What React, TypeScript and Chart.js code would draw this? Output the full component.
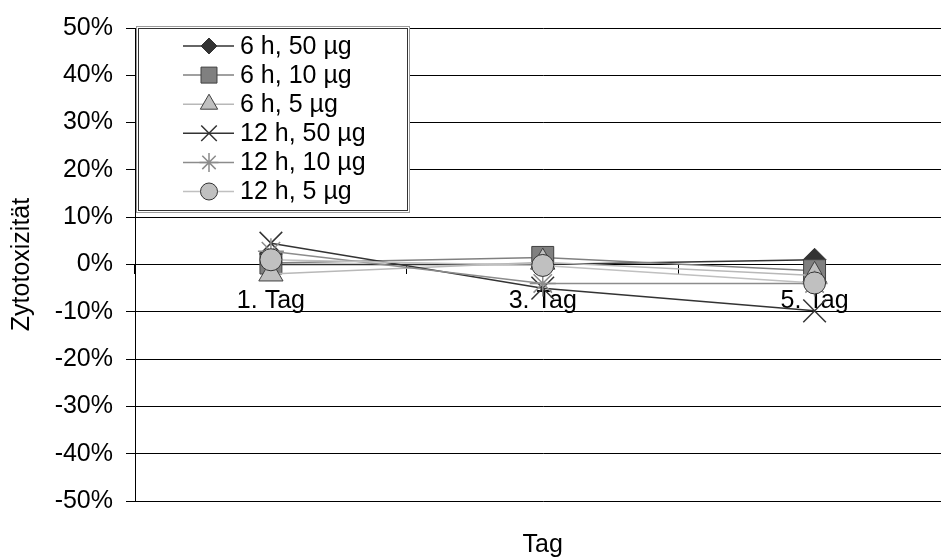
import React, { useEffect, useRef } from 'react';
import { Chart, registerables } from 'chart.js';
import { drawPoint } from 'chart.js/helpers';

Chart.register(...registerables);

// ---- data ----
const categories = ['1. Tag', '3. Tag', '5. Tag'];
const seriesLabels = ['6 h, 50 µg', '6 h, 10 µg', '6 h, 5 µg', '12 h, 50 µg', '12 h, 10 µg', '12 h, 5 µg'];
const h6_50 = [0, 0, 1];
const h6_10 = [0.3, 1.5, -1.3];
const h6_5 = [-2, 0.5, -2.3];
const h12_50 = [4.5, -5, -9.8];
const h12_10 = [2.8, -4, -4];
const h12_5 = [1, -0.2, -3.9];
const yMin = -50;
const yMax = 50;
const yStep = 10;
const yAxisTitle = 'Zytotoxizität';
const xAxisTitle = 'Tag';

const seriesValues = [h6_50, h6_10, h6_5, h12_50, h12_10, h12_5];

// ---- styles ----
const FONT = "'Liberation Sans', Arial, sans-serif";
const FS = 25;
const styles = [
  { pointStyle: 'rectRot', line: '#333333', fill: '#333333', stroke: '#333333', bw: 1, r: 11.5, lr: 8 },
  { pointStyle: 'rect', line: '#808080', fill: '#808080', stroke: '#404040', bw: 1, r: 15.5, lr: 11.3 },
  { pointStyle: 'triangle', line: '#b8b8b8', fill: '#c0c0c0', stroke: '#404040', bw: 1, r: 14, lr: 10 },
  { pointStyle: 'crossRot', line: '#333333', fill: '#333333', stroke: '#333333', bw: 1.5, r: 16, lr: 11 },
  { pointStyle: 'star', line: '#8c8c8c', fill: '#8c8c8c', stroke: '#8c8c8c', bw: 1.5, r: 13, lr: 9.5 },
  { pointStyle: 'circle', line: '#c0c0c0', fill: '#c0c0c0', stroke: '#333333', bw: 1, r: 11, lr: 8.5 },
];

const insideLegend = {
  id: 'insideLegend',
  afterDraw(chart: any) {
    const ctx = chart.ctx;
    const x0 = 136.5, y0 = 26.5, w = 273, h = 186;
    ctx.save();
    ctx.fillStyle = '#ffffff';
    ctx.fillRect(x0, y0, w, h);
    ctx.lineWidth = 1;
    ctx.strokeStyle = '#9a9a9a';
    ctx.strokeRect(x0, y0, w, h);
    ctx.strokeStyle = '#333333';
    ctx.strokeRect(x0 + 2, y0 + 2, w - 4, h - 4);
    const rowStart = 46;
    const rowGap = 29.1;
    chart.data.datasets.forEach((ds: any, i: number) => {
      const st = styles[i];
      const cy = rowStart + i * rowGap;
      ctx.strokeStyle = st.line;
      ctx.lineWidth = 1.5;
      ctx.beginPath();
      ctx.moveTo(183, cy);
      ctx.lineTo(234, cy);
      ctx.stroke();
      ctx.fillStyle = st.fill;
      ctx.strokeStyle = st.stroke;
      ctx.lineWidth = st.bw;
      drawPoint(ctx, { pointStyle: st.pointStyle, radius: st.lr, rotation: 0, borderWidth: st.bw } as any, 209, cy);
      ctx.fillStyle = '#000000';
      ctx.font = `${FS}px ${FONT}`;
      ctx.textAlign = 'left';
      ctx.textBaseline = 'middle';
      ctx.fillText(ds.label, 240, cy + 1);
    });
    ctx.restore();
  },
};

export default function App() {
  const ref = useRef<HTMLCanvasElement | null>(null);
  useEffect(() => {
    if (!ref.current) return;
    Chart.defaults.font.family = FONT;
    const chart = new Chart(ref.current, {
      type: 'line',
      data: {
        labels: categories,
        datasets: seriesValues.map((vals, i) => ({
          label: seriesLabels[i],
          data: vals,
          borderColor: styles[i].line,
          borderWidth: 1.5,
          pointStyle: styles[i].pointStyle as any,
          pointRadius: styles[i].r,
          pointHoverRadius: styles[i].r,
          pointBackgroundColor: styles[i].fill,
          pointBorderColor: styles[i].stroke,
          pointBorderWidth: styles[i].bw,
          order: seriesValues.length - 1 - i,
          tension: 0,
          clip: false as any,
        })),
      },
      options: {
        animation: false,
        responsive: false,
        devicePixelRatio: 1,
        layout: { padding: { top: 24, right: 0, left: 0, bottom: 0 } },
        plugins: {
          legend: { display: false },
          tooltip: { enabled: false },
          title: {
            display: true,
            text: xAxisTitle,
            position: 'bottom',
            fullSize: false,
            color: '#000',
            font: { size: FS, weight: 'normal' as any, family: FONT },
            padding: { top: 29, bottom: 0 },
          },
        },
        scales: {
          x: {
            type: 'category',
            position: { y: 0 } as any,
            offset: true,
            grid: { offset: true, drawOnChartArea: false, drawTicks: true, tickLength: 9, color: '#000', tickColor: '#000' },
            border: { display: true, color: '#000', width: 1 },
            ticks: { color: '#000', font: { size: FS, family: FONT }, padding: 13, maxRotation: 0, autoSkip: false },
          },
          y: {
            min: yMin,
            max: yMax,
            ticks: { stepSize: yStep, color: '#000', font: { size: FS, family: FONT }, padding: 13, callback: (v: any) => `${v}%` },
            grid: { color: '#000', tickColor: '#000', tickLength: 9, lineWidth: 1 },
            border: { display: true, color: '#000', width: 1 },
            title: { display: true, text: yAxisTitle, color: '#000', font: { size: FS, family: FONT }, padding: { top: 7, bottom: 0 } },
            afterFit: (s: any) => { s.width = 135; },
          },
        },
      },
      plugins: [insideLegend],
    });
    return () => chart.destroy();
  }, []);
  return (
    <div style={{ position: 'fixed', left: 0, top: 0, width: 941, height: 560, overflow: 'hidden', background: '#fff' }}>
      <canvas ref={ref} width={968} height={560} style={{ display: 'block' }} />
    </div>
  );
}
